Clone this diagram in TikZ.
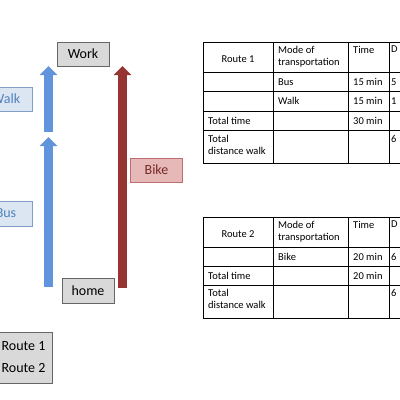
\documentclass[tikz,border=0pt]{standalone}
\usepackage{fontspec}
\setmainfont{Carlito}
\usetikzlibrary{arrows.meta,positioning}

\definecolor{busblue}{RGB}{98,148,222}
\definecolor{bikered}{RGB}{150,52,50}
\definecolor{lightblue}{RGB}{220,230,242}
\definecolor{edgeblue}{RGB}{128,158,198}
\definecolor{textblue}{RGB}{79,129,189}
\definecolor{lightred}{RGB}{230,185,184}
\definecolor{edgered}{RGB}{190,110,110}
\definecolor{textred}{RGB}{120,40,40}
\definecolor{boxgray}{RGB}{217,217,217}

\tikzset{
  labelbox/.style={draw=black!60,fill=boxgray,line width=0.8pt,minimum width=52pt,
    minimum height=24pt,inner sep=0pt,font=\fontsize{14}{16}\selectfont},
  bluebox/.style={labelbox,draw=edgeblue,fill=lightblue,text=textblue},
  redbox/.style={labelbox,draw=edgered,fill=lightred,text=textred},
  bluearrow/.style={line width=9pt,busblue,-{Triangle[length=9pt,width=17pt]}},
  redarrow/.style={line width=9pt,bikered,-{Triangle[length=9pt,width=17pt]}},
  tabline/.style={line width=0.8pt},
  celltext/.style={inner sep=0pt,font=\fontsize{10.5}{12}\selectfont,align=left},
}

\begin{document}
\begin{tikzpicture}[x=1pt,y=-1pt]
  \useasboundingbox (0,0) rectangle (400,400);
  \clip (0,0) rectangle (400,400);

  % places and modes
  \node[labelbox] (work) at (83,54) {Work};
  \node[labelbox,minimum height=25pt] (home) at (88,290.5) {home};
  \node[bluebox] (walk) at (6,99) {Walk};
  \node[bluebox,minimum height=25pt] (bus) at (6,213.5) {Bus};
  \node[redbox] (bike) at (156.5,170) {Bike};
  \node[labelbox,minimum width=57pt,minimum height=51pt,align=center,
    font=\fontsize{14}{22}\selectfont] (legend) at (23.5,357.5) {Route 1\\Route 2};

  % arrows
  \coordinate (busfoot) at (48.5,287);
  \coordinate (bustip) at (48.5,137);
  \coordinate (walkfoot) at (48.5,132);
  \coordinate (walktip) at (48.5,66);
  \coordinate (bikefoot) at (122.5,288);
  \coordinate (biketip) at (122.5,66);
  \draw[bluearrow] (busfoot) -- (bustip);
  \draw[bluearrow] (walkfoot) -- (walktip);
  \draw[redarrow] (bikefoot) -- (biketip);

  % table for route 1
  \foreach \y in {42,72,91,111,130,163}
    \draw[tabline] (203,\y) -- (410,\y);
  \foreach \x in {203,273,348,389}
    \draw[tabline] (\x,42) -- (\x,163);
  \node[celltext] (ra) at (238,59) {Route 1};
  \node[celltext,anchor=north west] (ramode) at (278,46) {Mode of\\transportation};
  \node[celltext,anchor=north west] (ratime) at (353,46) {Time};
  \node[celltext,anchor=north west] (radist) at (391,46) {D};
  \node[celltext,anchor=west] (rabus) at (278,82) {Bus};
  \node[celltext,anchor=west] (rabust) at (353,82) {15 min};
  \node[celltext,anchor=west] (rabusd) at (391,82) {5};
  \node[celltext,anchor=west] (rawalk) at (278,101) {Walk};
  \node[celltext,anchor=west] (rawalkt) at (353,101) {15 min};
  \node[celltext,anchor=west] (rawalkd) at (391,101) {1};
  \node[celltext,anchor=west] (ratotal) at (208,120.5) {Total time};
  \node[celltext,anchor=west] (ratotalt) at (353,120.5) {30 min};
  \node[celltext,anchor=north west] (rawalked) at (208,135) {Total\\distance walk};
  \node[celltext,anchor=north west] (rawalkedd) at (391,135) {6};

  % table for route 2
  \foreach \y in {217,247,266,285,318}
    \draw[tabline] (203,\y) -- (410,\y);
  \foreach \x in {203,273,348,389}
    \draw[tabline] (\x,217) -- (\x,318);
  \node[celltext] (rb) at (238,234) {Route 2};
  \node[celltext,anchor=north west] (rbmode) at (278,221) {Mode of\\transportation};
  \node[celltext,anchor=north west] (rbtime) at (353,221) {Time};
  \node[celltext,anchor=north west] (rbdist) at (391,221) {D};
  \node[celltext,anchor=west] (rbbike) at (278,257) {Bike};
  \node[celltext,anchor=west] (rbbiket) at (353,257) {20 min};
  \node[celltext,anchor=west] (rbbiked) at (391,257) {6};
  \node[celltext,anchor=west] (rbtotal) at (208,275.5) {Total time};
  \node[celltext,anchor=west] (rbtotalt) at (353,275.5) {20 min};
  \node[celltext,anchor=north west] (rbwalked) at (208,289) {Total\\distance walk};
  \node[celltext,anchor=north west] (rbwalkedd) at (391,289) {6};
\end{tikzpicture}
\end{document}
